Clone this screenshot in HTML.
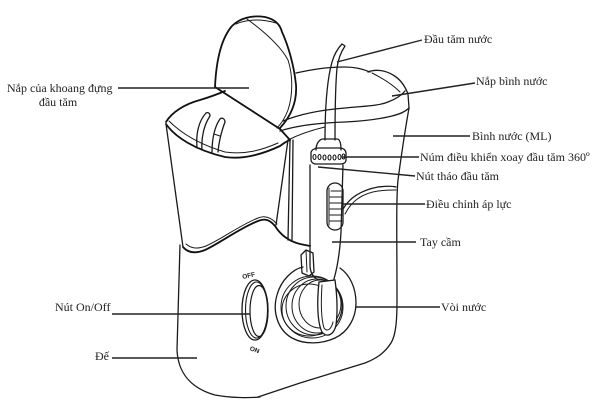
<!DOCTYPE html>
<html><head><meta charset="utf-8">
<style>
html,body{margin:0;padding:0;background:#fff;}
svg{display:block;}
text{font-family:"Liberation Serif","Noto Serif CJK SC",serif;font-size:12px;fill:#222;}
.s{fill:none;stroke:#1a1a1a;stroke-width:1.3;stroke-linecap:round;stroke-linejoin:round;}
.t{fill:none;stroke:#1a1a1a;stroke-width:1;stroke-linecap:round;}
.b{fill:none;stroke:#111;stroke-width:1.8;stroke-linecap:round;stroke-linejoin:round;}
.l{stroke:#222;stroke-width:1.4;}
</style></head>
<body>
<svg width="600" height="405" viewBox="0 0 600 405" xmlns="http://www.w3.org/2000/svg">
<rect width="600" height="405" fill="#fff"/>

<!-- flip lid -->
<path class="b" d="M215,87 C216,65 220,40 232,26 C240,18 252,15 265,17 C274,19 280,24 282,32 C288,45 294,65 296,85 C297,100 292,115 280,128"/>
<path class="t" d="M247,19 C262,30 280,45 288,60 C293,75 293,95 288,110 C285,118 281,124 277,128"/>
<path class="t" d="M236,24 C248,19 262,19 276,23"/>
<path class="b" d="M215,87 L280,129 L290,140"/>

<!-- tank lid -->
<path class="s" d="M296,73 C310,70 325,67 345,67 C355,67 363,69 370,72"/>
<path class="s" d="M368,72 C375,69 385,70 393,75 C400,79 405,86 408,94 L409,108"/>
<path class="t" d="M372,73 C382,78 392,84 400,92"/>
<path class="s" d="M283,121 C300,114 320,110 345,108 C365,106 378,106 388,102 C396,99 401,96 405,91"/>
<path class="s" d="M280,131 C295,126 315,123 345,122 C365,121 380,119 392,116 C400,114 405,112 409,108"/>
<path class="t" d="M288,140 C300,134 312,130 325,127"/>

<!-- tank right edge and base -->
<path class="s" d="M409,108 C406,125 402,150 398,180 C396,200 397,240 397,300 C397,320 396,335 391,343 C384,354 375,359 365,363 L300,383 L258,397"/>
<path class="s" d="M180,245 L177,350 C178,372 190,388 215,395 C230,398 250,398 260,397"/>

<!-- cup -->
<path class="b" d="M166,122 C172,112 185,104 200,100 C210,97 218,94 225,91"/>
<path class="b" d="M166,124 C175,137 195,150 225,157 C245,160 265,153 280,146 C284,143 287,141 290,140"/>
<path class="t" d="M169,121 C180,132 198,144 225,152 C245,155 262,150 278,143"/>
<path class="s" d="M166,124 L183,247"/>
<path class="b" d="M183,247 C188,253 195,254 205,250 C220,243 240,228 258,221 C265,218 270,220 275,226 C280,234 288,241 300,244 L310,246"/>
<path class="t" d="M186,244 C192,249 198,249 206,246 C222,239 240,225 258,218 C265,215 271,217 277,224"/>
<path class="s" d="M288,140 L276,225"/>
<path class="s" d="M290,141 L288,240"/>
<path class="s" d="M293,140 L292,240"/>
<!-- tips -->
<path class="s" d="M197,148 C196,135 198,122 206,113 C208,112 210,113 210,116 C204,125 201,138 202,150"/>
<path class="s" d="M212,152 C212,138 215,126 220,119 C222,117 225,119 225,122 C222,130 219,140 218,152"/>
<path class="t" d="M214,134 L220,136"/>

<!-- spout -->
<path class="s" d="M325,140 C325,110 327,80 332,62 C335,52 339,47 342,44 L345,46 C341,52 338,60 337,68 C335,90 335,115 335,140"/>

<!-- knob -->
<path class="s" d="M316,150 C316,143 320,139 323,139 L337,139 C340,139 341,144 341,150"/>
<path class="s" d="M311,153 C311,150 315,148 318,148 L340,148 C344,148 346,151 346,153 L346,160 C346,163 343,164 340,164 L316,164 C313,164 311,162 311,160 Z"/>
<g fill="none" stroke="#111" stroke-width="1.1">
<ellipse cx="314.5" cy="157" rx="1.5" ry="2.5"/>
<ellipse cx="319.5" cy="157" rx="1.5" ry="2.5"/>
<ellipse cx="324.5" cy="157.5" rx="1.5" ry="2.5"/>
<ellipse cx="329.5" cy="157.5" rx="1.5" ry="2.5"/>
<ellipse cx="334.5" cy="157.5" rx="1.5" ry="2.5"/>
<ellipse cx="339.5" cy="157" rx="1.5" ry="2.5"/>
<ellipse cx="343.5" cy="156.5" rx="1.3" ry="2.5"/>
</g>

<!-- handle -->
<path class="s" d="M310,165 L310,265 C310,272 313,277 318,280"/>
<path class="s" d="M343,165 L341,232 C340,250 338,265 334,279"/>
<rect class="s" x="327" y="183" width="16" height="47" rx="8"/>
<path class="t" d="M329,188 L329,225"/>
<g class="t">
<path d="M331,191 L341,191"/><path d="M330,197 L342,197"/><path d="M330,203 L342,203"/>
<path d="M330,209 L342,209"/><path d="M330,215 L342,215"/><path d="M330,221 L342,221"/>
</g>
<path class="s" d="M343,209 C350,197 362,190 378,187 C386,186 392,186 396,187"/>
<path class="t" d="M345,214 C352,200 364,193 378,191 C386,190 392,190 396,190"/>

<!-- hose clip -->
<path class="s" d="M301,255 L306,250 L313,253 L314,272 L309,276 L302,273 Z"/>
<path class="t" d="M306,250 L307,272"/>

<!-- coil housing -->
<path class="s" d="M303,267 C293,269 281,280 277,295 C272,312 278,330 292,338 C305,345 322,344 335,338 C348,332 356,318 356,303 C356,288 350,275 340,268"/>
<g class="t">
<ellipse cx="312" cy="307" rx="31" ry="31"/>
<ellipse cx="314" cy="306" rx="28" ry="29"/>
<ellipse cx="317" cy="306" rx="25" ry="27"/>
<ellipse cx="320" cy="304" rx="21" ry="24"/>
<ellipse cx="309" cy="310" rx="27" ry="26"/>
</g>
<path d="M319,282 C317,300 317,322 322,332 C327,338 334,335 336,325 C338,310 337,295 335,280 Z" fill="#fff" stroke="#1a1a1a" stroke-width="1.3"/>
<path class="t" d="M322,285 C321,300 321,318 324,328 C327,332 331,330 333,322"/>

<!-- on/off button -->
<ellipse cx="255" cy="310" rx="13" ry="30" fill="none" stroke="#1a1a1a" stroke-width="1.3"/>
<ellipse cx="256.5" cy="310" rx="11" ry="28" fill="none" stroke="#1a1a1a" stroke-width="1.1"/>
<ellipse cx="259" cy="311" rx="9" ry="25.5" fill="none" stroke="#1a1a1a" stroke-width="1.2"/>
<text x="242" y="278" transform="rotate(-12 247 275)" style="font-family:'Liberation Sans',sans-serif;font-size:6.5px;font-weight:bold;fill:#222">OFF</text>
<text x="250" y="352" transform="rotate(18 255 349)" style="font-family:'Liberation Sans',sans-serif;font-size:6.5px;font-weight:bold;fill:#222">ON</text>

<!-- leader lines -->
<g class="l">
<line x1="337" y1="62" x2="422" y2="40"/>
<line x1="392" y1="96" x2="475" y2="83"/>
<line x1="393" y1="136" x2="470" y2="136"/>
<line x1="343" y1="157" x2="419" y2="157"/>
<line x1="318" y1="167" x2="415" y2="176"/>
<line x1="343" y1="204" x2="425" y2="204"/>
<line x1="332" y1="242" x2="416" y2="242"/>
<line x1="355" y1="307" x2="440" y2="307"/>
<line x1="118" y1="88" x2="249" y2="88"/>
<line x1="112" y1="314" x2="250" y2="314"/>
<line x1="112" y1="358" x2="197" y2="358"/>
</g>

<!-- labels -->
<text x="424" y="43">Đầu tăm nước</text>
<text x="476" y="85">Nắp bình nước</text>
<text x="472" y="140">Bình nước (ML)</text>
<text x="420" y="161">Núm điều khiển xoay đầu tăm 360º</text>
<text x="416" y="180">Nút tháo đầu tăm</text>
<text x="426" y="208">Điều chỉnh áp lực</text>
<text x="420" y="246">Tay cầm</text>
<text x="441" y="311">Vòi nước</text>
<text x="7" y="92">Nắp của khoang đựng</text>
<text x="58" y="106" text-anchor="middle">đầu tăm</text>
<text x="55" y="311">Nút On/Off</text>
<text x="95" y="360">Đế</text>
</svg>
</body></html>
